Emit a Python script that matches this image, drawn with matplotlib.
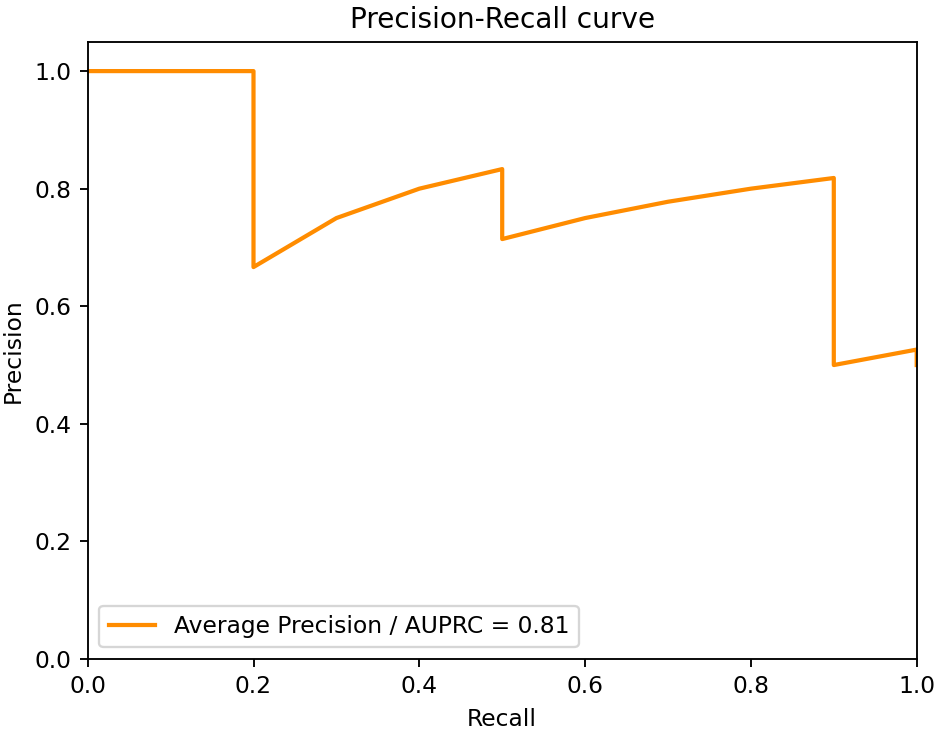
import matplotlib
matplotlib.use("Agg")
import matplotlib.pyplot as plt

recall = [0.0, 0.2, 0.2, 0.3, 0.4, 0.5, 0.5, 0.6, 0.7, 0.8, 0.9, 0.9, 1.0, 1.0]
precision = [1.0, 1.0, 2/3, 0.75, 0.8, 5/6, 5/7, 0.75, 7/9, 0.8, 9/11, 0.5, 10/19, 0.5]
ap = 0.81

W, H = 942, 730
dpi = 168
fig = plt.figure(figsize=(W/dpi, H/dpi), dpi=dpi)
ax = fig.add_axes([87.7/W, 1 - 659/H, 829/W, 617.3/H])
ax.plot(recall, precision, color='darkorange', lw=1.8,
        label='Average Precision / AUPRC = %0.2f' % ap)
ax.set_xlim(0.0, 1.0)
ax.set_ylim(0.0, 1.05)
ax.set_xlabel('Recall')
ax.set_ylabel('Precision')
ax.set_title('Precision-Recall curve')
ax.legend(loc='lower left')
fig.savefig('out.png', dpi=dpi)
